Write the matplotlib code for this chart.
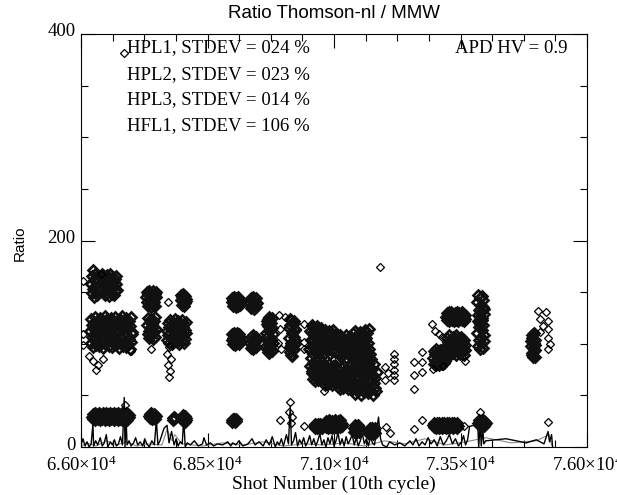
import matplotlib
matplotlib.use('Agg')
import matplotlib.pyplot as plt
from matplotlib.ticker import FuncFormatter
from matplotlib.transforms import ScaledTranslation
import numpy as np

# shot numbers are every 10th cycle -> a run is (first shot, ratios of consecutive samples)
STEP = 10

# ---- HPL1 (upper band, ~100-170) ----
hpl1_run_start = [66200, 66400, 67290, 67970, 68980, 69340, 69660, 70120, 70570, 73220, 73830, 74900]
hpl1_run_ratio = [
    [158, 166, 149, 171, 153, 162, 145, 168, 156, 150, 164, 147, 160],
    [165, 160, 168, 162, 158, 150, 166, 155, 147, 161, 152, 167, 149, 157, 164, 146, 159, 153, 168, 150,
     162, 156, 148, 165, 154, 160, 147, 163, 151, 158, 166, 152],
    [145, 140, 150, 137, 148, 143, 151, 139, 146, 136, 149, 142, 147, 138, 151, 144, 140, 148, 137, 145, 150],
    [142, 147, 138, 145, 140, 148, 137, 144, 146, 139, 143, 141],
    [140, 144, 137, 142, 145, 138, 141, 143, 136, 144, 139, 142, 137, 145, 140, 143, 138, 141],
    [139, 144, 135, 142, 137, 145, 140, 134, 143, 138, 141, 136, 144, 139],
    [98, 119, 107, 124, 92, 112, 101, 121, 96, 116, 104, 125, 94, 109],
    [115, 97, 124, 101, 89, 110, 119, 94, 107, 122, 100, 113],
    [110, 97, 116, 104, 93, 112, 100, 108, 95, 117, 103, 114, 98, 106, 92, 111, 101, 115, 96, 107,
     104, 112, 95, 108, 100, 113, 91, 106, 98, 110, 94, 103, 109, 97, 112, 90, 105, 99, 111, 93,
     107, 101, 113, 96, 104, 92, 109, 98, 106, 100,
     100, 107, 90, 103, 96, 108, 87, 101, 94, 106, 89, 99, 105, 92, 102, 97, 108, 86, 104, 95,
     100, 91, 107, 98, 103, 88, 106, 93, 101, 96,
     98, 110, 88, 104, 93, 112, 86, 101, 107, 90, 96, 109, 84, 103, 99, 111, 91, 105, 87, 100,
     108, 94, 102, 89, 113, 97, 85, 106, 92, 110, 88, 101, 95, 114, 90],
    [126, 130, 123, 128, 125, 131, 122, 127, 129, 124, 131, 126, 123, 129, 125, 122, 128, 130, 124, 127,
     123, 131, 126, 129, 122, 125, 130, 127, 124, 128, 131, 123, 126, 129, 125, 122, 128, 124],
    [140, 128, 147, 133, 121, 144, 126, 138, 131, 146, 123, 136, 142, 129, 134],
    [103, 91, 108, 96, 87, 101, 110, 94, 99],
]
hpl1_pt_shot = [66040, 66400, 66855, 67710, 71905, 72938, 72998, 73078, 73137,
                75026, 75185, 75065, 75224, 75125, 75224, 75065, 75224, 75264, 75224]
hpl1_pt_ratio = [161, 168, 382, 140, 174, 119, 112, 109, 107,
                 132, 131, 124, 122, 117, 114, 111, 106, 100, 95]

# ---- HPL2 (lower band, ~50-130) ----
hpl2_run_start = [66180, 67310, 67690, 68980, 69340, 69660, 70120, 70510, 70570, 72960, 73830, 74900]
hpl2_run_ratio = [
    [112, 101, 124, 107, 118, 97, 115, 121, 104, 110, 126, 99, 116, 108, 122, 103, 113, 119, 98, 125,
     106, 117, 101, 123, 111, 96, 120, 105, 114, 127, 100, 118, 109, 124, 102, 115, 121, 98, 111, 107,
     119, 103, 125, 97, 113, 108, 122, 100, 116, 105, 126, 99, 120, 110, 104, 117, 123, 96, 112, 107,
     124, 101, 118, 106, 127, 98, 115, 121, 103, 110, 125, 97, 119, 108, 114, 100, 122, 105, 117, 95,
     126, 102, 111, 109],
    [118, 109, 125, 112, 106, 121, 115, 108, 124, 110, 119, 105, 116, 122, 111, 126, 107, 114],
    [112, 104, 120, 108, 116, 101, 123, 110, 106, 118, 114, 100, 121, 107, 117, 103, 124, 111, 105, 119,
     113, 102, 122, 109, 115, 100, 120, 106, 118, 111, 104, 123, 108, 116, 101, 119, 113, 105, 121, 110],
    [104, 109, 100, 106, 110, 102, 107, 99, 105, 108, 101, 110, 103, 106, 100, 109, 104, 107],
    [101, 107, 96, 104, 99, 108, 95, 103, 106, 98, 102, 107, 97, 105],
    [110, 95, 122, 103, 117, 91, 126, 99, 113, 106, 120, 93, 115, 101],
    [106, 92, 118, 99, 123, 88, 111, 102, 120, 95, 114, 104],
    [95, 78, 112, 86, 104, 72, 118, 90, 81, 108, 99, 75, 115, 84, 101, 93],
    [74, 66, 81, 70, 77, 64, 79, 72, 68, 82, 75, 65, 78, 71, 80, 67, 73, 76, 69, 82,
     70, 62, 78, 66, 74, 60, 79, 68, 72, 64, 76, 61, 71, 80, 65, 73, 63, 77, 69, 75,
     60, 78, 67, 72, 62, 79, 70, 64, 76, 68,
     66, 58, 75, 62, 70, 56, 77, 64, 68, 60, 73, 57, 71, 78, 63, 69, 59, 74, 65, 76,
     56, 72, 61, 67, 78, 58, 70, 63, 75, 60,
     70, 56, 84, 62, 77, 51, 80, 66, 59, 87, 73, 54, 68, 82, 60, 75, 50, 71, 86, 64,
     57, 79, 67, 53, 83, 61, 74, 58, 88, 69, 52, 78, 63, 81, 55, 72, 65, 85, 59, 76,
     50, 70, 62, 80, 57, 67, 54, 73],
    [86, 80, 93, 83, 90, 79, 95, 84, 88, 81, 92, 85, 79, 94, 87, 82, 91, 80, 89, 84,
     95, 81, 87, 92, 83,
     98, 92, 106, 95, 102, 89, 108, 97, 100, 93, 105, 90, 103, 96, 107, 91, 99, 104, 94, 101,
     108, 89, 97, 106, 92, 100, 95, 103, 90, 107, 98, 93, 105, 96, 101, 89, 104, 94, 99],
    [110, 98, 122, 104, 116, 95, 119, 107, 101, 125, 113, 96, 118, 103, 108],
    [98, 106, 89, 102, 109, 93, 100, 87, 104],
]
hpl2_pt_shot = [66040, 66040, 66160, 66240, 66340, 66440, 66300, 66990, 67390,
                67740, 67700, 67780, 67720, 67760, 67740,
                69920, 69940, 69900, 69960, 70040,
                70410, 70410, 70410, 70810, 72000, 72000, 72060,
                72180, 72180, 72180, 72180, 72180, 72180,
                72580, 72580, 72740, 72740, 72740, 72580, 73160, 73580, 72950]
hpl2_pt_ratio = [109, 99, 88, 83, 79, 85, 75, 93, 95,
                 97, 90, 85, 79, 74, 68,
                 128, 114, 101, 95, 126,
                 119, 102, 95, 54, 77, 65, 72,
                 90, 85, 80, 75, 70, 65,
                 82, 70, 92, 82, 73, 56, 78, 83, 76]

# ---- HPL3 (band near 15-35) ----
hpl3_run_start = [66220, 67350, 67810, 68000, 68980, 70610, 70830, 71390, 71690, 72960, 73850]
hpl3_run_ratio = [
    [29, 32, 27, 31, 28, 33, 26, 30, 32, 28, 31, 27, 29, 33, 30, 26, 32, 28, 31, 29,
     27, 33, 30, 28, 32, 26, 31, 29, 33, 27, 30, 32, 28, 31, 26, 29, 33, 27, 30, 32,
     28, 31, 29, 26, 33, 30, 27, 32, 28, 31, 29, 33, 26, 30, 32, 27, 31, 28, 29, 33,
     26, 30, 32, 28, 31, 27, 29, 33, 30, 26, 32, 28, 31, 29],
    [30, 28, 32, 29, 33, 27, 31, 30, 28, 32, 29, 31, 27, 30],
    [28, 26, 29, 27, 28],
    [28, 25, 31, 27, 29, 24, 30, 26, 28],
    [26, 24, 27, 25, 26, 27, 24, 26, 25, 27],
    [20, 18, 22, 19, 21, 18, 20, 22, 19, 21, 20, 18, 22, 19, 21, 20, 18, 21],
    [22, 19, 25, 21, 24, 18, 23, 20, 26, 22, 19, 24, 21, 25, 18, 23, 20, 22, 26, 19,
     24, 21, 23, 18, 25, 20, 22, 24, 19, 26, 21, 23, 20, 22],
    [18, 15, 21, 17, 19, 14, 20, 16, 18, 21, 15, 19],
    [16, 13, 18, 15, 17, 14, 16, 18, 13, 17, 15, 16, 14, 18],
    [21, 19, 23, 20, 22, 18, 21, 23, 19, 22, 20, 18, 23, 21, 19, 22, 20, 23, 18, 21,
     22, 19, 23, 20, 21, 18, 22, 23, 19, 20, 21, 23, 18, 22, 19, 21, 20, 23, 19, 22,
     18, 21, 23, 20, 22, 19, 21, 18, 23, 20],
    [23, 21, 26, 22, 25, 20, 24, 23, 21, 26, 22, 25, 20, 24, 22, 23],
]
hpl3_pt_shot = [66875, 70135, 70115, 70175, 70155, 69936, 70413, 72024, 72103, 72580, 72739, 73574, 73893, 75224]
hpl3_pt_ratio = [41, 44, 34, 29, 23, 26, 20, 19, 14, 17, 26, 20, 34, 24]

# ---- HFL1 (line trace near zero) ----
hfl1_shot = [
    66000, 66040, 66080, 66120, 66160, 66200, 66235, 66250, 66290, 66330,
    66380, 66420, 66460, 66500, 66530, 66580, 66620, 66660, 66700, 66740,
    66780, 66820, 66855, 66870, 66890, 66910, 66950, 66990, 67040, 67080,
    67120, 67170, 67220, 67260, 67300, 67350, 67400, 67450, 67490, 67520,
    67560, 67600, 67640, 67700, 67740, 67790, 67840, 67880, 67920, 67960,
    68000, 68030, 68060, 68100, 68160, 68240, 68320, 68400, 68430, 68480,
    68560, 68620, 68700, 68800, 68900, 68960, 69000, 69060, 69120, 69200,
    69300, 69380, 69440, 69520, 69600, 69660, 69720, 69780, 69840, 69880,
    69920, 69960, 70000, 70060, 70100, 70135, 70160, 70200, 70240, 70280,
    70320, 70360, 70400, 70440, 70480, 70520, 70560, 70600, 70640, 70680,
    70720, 70760, 70800, 70840, 70880, 70920, 70960, 71000, 71040, 71080,
    71120, 71160, 71200, 71240, 71280, 71320, 71360, 71400, 71440, 71480,
    71520, 71560, 71600, 71640, 71680, 71720, 71760, 71800, 71880, 71920,
    71960, 72040, 72100, 72200, 72300, 72400, 72500, 72560, 72620, 72680,
    72740, 72800, 72860, 72920, 72980, 73040, 73100, 73160, 73220, 73280,
    73340, 73400, 73460, 73520, 73560, 73600, 73640, 73680, 73840, 73860,
    73890, 73910, 73940, 73960, 74000, 74400, 74800, 75000, 75150, 75230,
    75260, 75300, 75320]
hfl1_ratio = [
    2, 8, 1, 5, 0, 3, 22, 1, 6, 2,
    9, 1, 4, 12, 0, 5, 2, 7, 1, 3,
    10, 2, 48, 0, 30, 2, 6, 1, 4, 9,
    2, 5, 1, 8, 3, 0, 6, 2, 26, 2,
    6, 12, 18, 21, 4, 15, 2, 8, 1, 5,
    3, 27, 0, 4, 2, 6, 1, 3, 9, 2,
    4, 1, 3, 2, 5, 1, 4, 2, 6, 1,
    3, 8, 2, 5, 1, 7, 2, 10, 0, 5,
    2, 8, 1, 12, 3, 40, 2, 6, 14, 1,
    7, 3, 9, 1, 5, 11, 2, 8, 1, 6,
    13, 2, 7, 0, 9, 3, 11, 1, 6, 14,
    2, 8, 1, 10, 3, 7, 12, 2, 9, 1,
    6, 13, 3, 8, 1, 10, 4, 2, 29, 8,
    2, 0, 5, 2, 4, 1, 6, 2, 8, 1,
    5, 2, 9, 3, 7, 1, 10, 2, 6, 12,
    3, 8, 1, 5, 11, 2, 7, 20, 22, 0,
    24, 1, 18, 3, 6, 8, 4, 7, 3, 15,
    5, 12, 0]

# second, grey trace near zero
raw_shot = [66000, 66100, 66300, 66500, 66700, 66900, 67100, 67300, 67600, 67700,
            67800, 67850, 68000, 68400, 68800, 69200, 69600, 70000, 70400, 70800,
            71200, 71600, 72000, 72400, 72800, 73200, 73600, 74000, 74500, 75000,
            75250, 75300]
raw_ratio = [0, 4, 1, 6, 2, 5, 1, 3, 2, 17,
             6, 12, 3, 1, 4, 2, 5, 1, 3, 2,
             4, 1, 6, 3, 8, 2, 5, 9, 4, 6,
             12, 2]

labels = ['HPL1, STDEV = 024 %', 'HPL2, STDEV = 023 %', 'HPL3, STDEV = 014 %', 'HFL1, STDEV = 106 %']
x_ticks = [66000, 68500, 71000, 73500, 76000]
y_ticks = [0, 200, 400]


def expand(starts, runs):
    shots, ratios = [], []
    for s, vals in zip(starts, runs):
        shots += [s + STEP * i for i in range(len(vals))]
        ratios += vals
    return shots, ratios


plt.rcParams['font.family'] = 'Liberation Serif'

fig = plt.figure(figsize=(6.17, 4.95), dpi=100)
ax = fig.add_axes([81 / 617, 48 / 495, 506 / 617, 413 / 495])

ax.plot(raw_shot, raw_ratio, color='#888888', lw=0.8)
ax.plot(hfl1_shot, hfl1_ratio, color='black', lw=1.0)

for st, rr, ps, pr in [(hpl1_run_start, hpl1_run_ratio, hpl1_pt_shot, hpl1_pt_ratio),
                       (hpl2_run_start, hpl2_run_ratio, hpl2_pt_shot, hpl2_pt_ratio),
                       (hpl3_run_start, hpl3_run_ratio, hpl3_pt_shot, hpl3_pt_ratio)]:
    x, y = expand(st, rr)
    # dense runs overlap into solid blobs
    ax.plot(x, y, ls='none', marker='D', ms=4.7, mfc='none', mec='#111111', mew=1.9)
    ax.plot(ps, pr, ls='none', marker='D', ms=4.4, mfc='none', mec='black', mew=0.9)

ax.set_xlim(66000, 76000)
ax.set_ylim(0, 400)
ax.set_xticks(x_ticks)
ax.set_xticks(np.arange(x_ticks[0], x_ticks[-1] + 1, 625), minor=True)
ax.set_yticks(y_ticks)
ax.set_yticks(np.arange(0, 401, 50), minor=True)
ax.xaxis.set_major_formatter(FuncFormatter(lambda v, p: r'$\mathregular{%.2f×10^{4}}$' % (v / 1e4)))
ax.yaxis.set_major_formatter(FuncFormatter(lambda v, p: '%d' % v))
ax.tick_params(which='both', direction='in', top=True, right=True, width=0.8, labelsize=13.5)
ax.tick_params(axis='x', which='major', length=10, pad=6)
ax.tick_params(axis='y', which='major', length=10, pad=4)
ax.tick_params(which='minor', length=5)
for sp in ax.spines.values():
    sp.set_linewidth(0.8)
# y labels sit slightly above their ticks, as in the original
for lab in ax.get_yticklabels():
    lab.set_transform(lab.get_transform() + ScaledTranslation(0, 4 / 100, fig.dpi_scale_trans))

text_y = [0.966, 0.902, 0.840, 0.778]
for t, ty in zip(labels, text_y):
    ax.text(0.09, ty, t, transform=ax.transAxes, fontsize=13.5, va='center')
ax.text(0.962, 0.966, 'APD HV = 0.9', transform=ax.transAxes, fontsize=13.5, va='center', ha='right')

fig.text(334 / 617, 1 - 13 / 495, 'Ratio Thomson-nl / MMW', family='Liberation Sans',
         fontsize=13.5, ha='center', va='center')
fig.text(20 / 617, 1 - 243 / 495, 'Ratio', family='Liberation Sans', fontsize=11, rotation=90,
         ha='center', va='center')
fig.text(334 / 617, 1 - 484 / 495, 'Shot Number (10th cycle)', fontsize=14, ha='center', va='center')

fig.savefig('out.png', dpi=100)
